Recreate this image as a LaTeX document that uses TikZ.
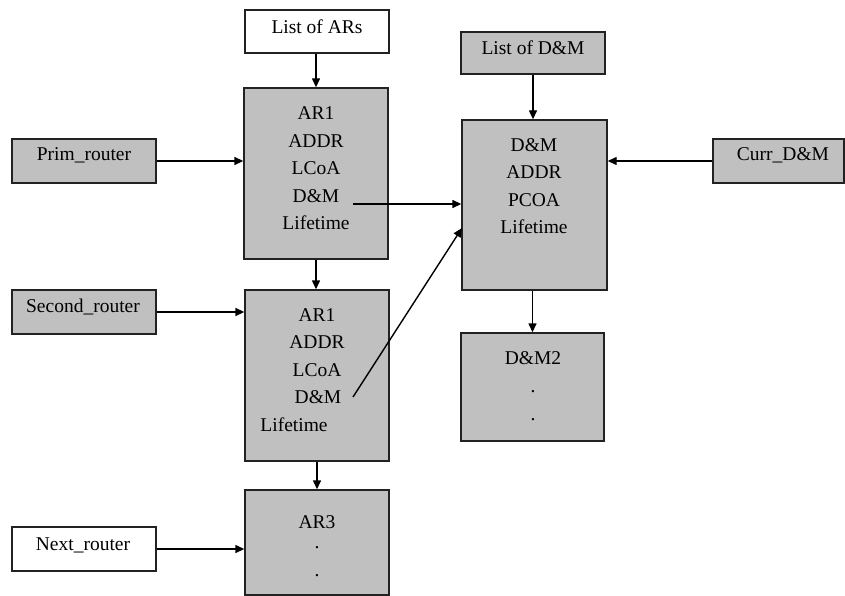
\documentclass[tikz,border=0pt]{standalone}
\usepackage{fontspec}
\setmainfont{Liberation Serif}
\usetikzlibrary{arrows.meta}
\definecolor{boxgray}{HTML}{C0C0C0}
\definecolor{edge}{HTML}{222222}
\begin{document}
\begin{tikzpicture}[x=1pt,y=-1pt,
  box/.style={draw=edge,line width=1.4pt,rectangle,inner sep=0pt},
  gbox/.style={box,fill=boxgray},
  wbox/.style={box,fill=white},
  txt/.style={inner sep=0pt,font=\fontsize{19.5}{27.5}\selectfont},
  dot/.style={inner sep=0pt,font=\fontsize{19.5}{27.5}\selectfont,text height=2pt,text depth=0pt},
  conn/.style={line width=1.4pt,-{Triangle[length=9pt,width=8pt]}}]
\useasboundingbox (0,0) rectangle (845,596);
% boxes
\node[wbox,minimum width=144pt,minimum height=43pt] (lars) at (317,31.5) {};
\node[gbox,minimum width=144pt,minimum height=171pt] (ar1) at (316,173.5) {};
\node[gbox,minimum width=144pt,minimum height=44pt] (prim) at (84,161) {};
\node[gbox,minimum width=144pt,minimum height=42pt] (ldm) at (533,53) {};
\node[gbox,minimum width=145pt,minimum height=170pt] (dm) at (534.5,205) {};
\node[gbox,minimum width=131pt,minimum height=44pt] (curr) at (778.5,161) {};
\node[gbox,minimum width=144pt,minimum height=44pt] (sec) at (84,312) {};
\node[gbox,minimum width=144pt,minimum height=171pt] (ar2) at (317,375.5) {};
\node[gbox,minimum width=143pt,minimum height=108pt] (dmtwo) at (532.5,387) {};
\node[gbox,minimum width=144pt,minimum height=105pt] (ar3) at (317,542.5) {};
\node[wbox,minimum width=144pt,minimum height=44pt] (next) at (84,549) {};
% texts
\node[txt] (tlars) at (317,27) {List of ARs};
\node[txt] (tprim) at (84,155) {Prim\_router};
\node[txt] (tldm) at (533,48) {List of D\&M};
\node[txt] (tcurr) at (783,155) {Curr\_D\&M};
\node[txt] (tsec) at (83,307) {Second\_router};
\node[txt] (tnext) at (83,545) {Next\_router};
\node[txt] (a1) at (316,113) {AR1};
\node[txt] (a2) at (316,141) {ADDR};
\node[txt] (a3) at (316,168) {LCoA};
\node[txt] (a4) at (316,196) {D\&M};
\node[txt] (a5) at (316,223) {Lifetime};
\node[txt] (d1) at (534,145) {D\&M};
\node[txt] (d2) at (534,172) {ADDR};
\node[txt] (d3) at (534,200) {PCOA};
\node[txt] (d4) at (534,227) {Lifetime};
\node[txt] (b1) at (317,315) {AR1};
\node[txt] (b2) at (317,342) {ADDR};
\node[txt] (b3) at (317,370) {LCoA};
\node[txt] (b4) at (318,397) {D\&M};
\node[txt] (b5) at (294,425) {Lifetime};
\node[txt] (e1) at (533,358) {D\&M2};
\node[dot] (e2) at (533,391) {.};
\node[dot] (e3) at (533,419) {.};
\node[txt] (c1) at (317,522) {AR3};
\node[dot] (c2) at (317,547) {.};
\node[dot] (c3) at (317,575) {.};
% free ends
\coordinate (s1) at (353,204);
\coordinate (s2) at (353,397);
\coordinate (t2) at (462,228);
% connectors
\draw[conn] (lars.south -| ar1.north) -- (ar1.north);
\draw[conn] (ar1.south) -- (ar1.south |- ar2.north);
\draw[conn] (ar2.south -| ar3.north) -- (ar3.north);
\draw[conn] (ldm.south) -- (ldm.south |- dm.north);
\draw[conn] (dm.south -| dmtwo.north) -- (dmtwo.north);
\draw[conn] (prim.east) -- (prim.east -| ar1.west);
\draw[conn] (sec.east) -- (sec.east -| ar2.west);
\draw[conn] (next.east) -- (next.east -| ar3.west);
\draw[conn] (curr.west) -- (curr.west -| dm.east);
\draw[conn] (s1) -- (s1 -| dm.west);
\draw[conn] (s2) -- (t2);
\end{tikzpicture}
\end{document}
